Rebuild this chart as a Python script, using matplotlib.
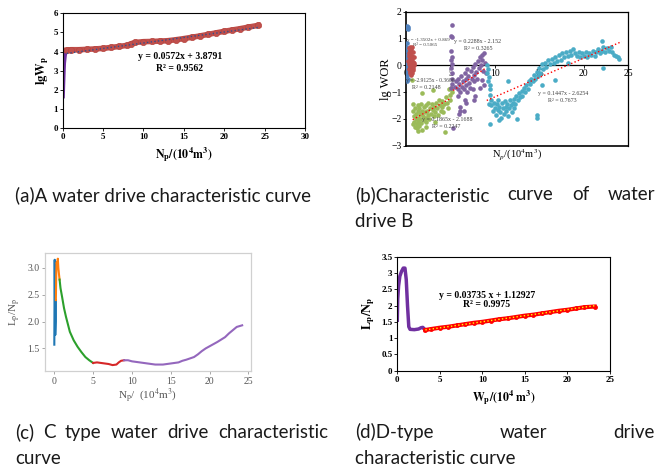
import matplotlib
matplotlib.use("Agg")
import matplotlib.pyplot as plt
import numpy as np

W, H = 670, 469
plt.rcParams["font.family"] = "Liberation Serif"
plt.rcParams["mathtext.fontset"] = "stix"

# ---- (a) lgWp vs Np ----
a_purple_x = [0.05, 0.1, 0.15, 0.2, 0.3, 0.4]
a_purple_y = [1.65, 2.3, 2.9, 3.4, 3.8, 4.0]
a_red_x = [0.5, 1, 2, 3, 4, 5, 6, 7, 8, 8.5, 9, 10, 11, 12, 13, 14, 15, 16,
           17, 18, 19, 20, 21, 22, 23, 24.2]
a_red_y = [4.08, 4.1, 4.1, 4.12, 4.14, 4.17, 4.22, 4.27, 4.33, 4.42, 4.48,
           4.52, 4.53, 4.55, 4.57, 4.62, 4.68, 4.75, 4.82, 4.9, 4.98, 5.06,
           5.13, 5.2, 5.28, 5.37]
a_fit = (0.0572, 3.8791)
a_eq = ["y = 0.0572x + 3.8791", "R² = 0.9562"]

# ---- (b) lgWOR vs Np ----
b_blue_x = [0.05, 0.10, 0.15, 0.20, 0.25, 0.05, 0.08, 0.12, 0.05, 0.10, 0.15, 0.05,
            0.10, 0.20, 0.08, 0.12, 0.05, 0.18, 0.10, 0.25, 0.15, 0.05, 0.30, 0.10]
b_blue_y = [1.40, 1.45, 1.38, 1.42, 1.35, 0.55, 0.40, 0.30, 0.20, 0.10, 0.05, -0.05,
            -0.15, -0.10, -0.25, -0.35, -0.45, -0.50, -0.60, -0.20, 0.15, 0.70, -0.05, 0.85]
b_red_x = [0.3, 0.5, 0.7, 0.4, 0.6, 0.8, 0.3, 0.5, 0.7, 0.9, 0.4, 0.6, 0.2, 0.5, 0.8, 0.3,
           0.6, 0.9, 0.4, 0.7, 0.5, 0.3, 0.6, 0.8, 0.4, 0.7, 0.5, 0.6, 0.9, 0.3, 0.5, 0.7,
           0.4, 0.8, 0.6, 0.5]
b_red_y = [0.65, 0.70, 0.68, 0.55, 0.60, 0.50, 0.45, 0.40, 0.35, 0.30, 0.25, 0.20, 0.15,
           0.10, 0.12, 0.05, 0.00, 0.02, -0.05, -0.08, -0.12, -0.15, -0.20, -0.18, -0.25,
           -0.28, -0.30, 0.48, 0.08, 0.35, 0.58, 0.22, -0.02, -0.10, -0.35, 0.28]
b_green_x = [0.7, 0.8, 0.8, 0.9, 0.9, 1.0, 0.8, 1.0, 1.1, 1.1, 1.2, 1.2, 1.3, 1.3, 1.4, 1.4,
             1.5, 1.5, 1.6, 1.6, 1.7, 1.7, 1.8, 1.8, 1.85, 1.9, 2.0, 2.0, 2.1, 2.2, 2.3, 2.3,
             2.4, 2.5, 2.5, 2.6, 2.7, 2.8, 2.9, 3.0, 3.0, 3.1, 3.2, 3.3, 3.4, 3.5, 3.6, 3.75,
             3.8, 3.9, 4.0, 4.1, 4.2, 4.3, 4.4, 4.5, 4.6, 4.7, 4.8, 4.9, 5.0, 5.1, 5.2, 2.2,
             1.3, 3.3]
b_green_y = [-0.55, -1.45, -1.7, -1.9, -2.1, -2.3, -2.2, -1.6, -1.8, -2.0, -2.2, -2.35,
             -1.5, -1.7, -1.95, -2.1, -2.25, -1.6, -1.8, -2.0, -2.15, -1.45, -1.05, -1.7,
             -2.4, -1.9, -2.05, -1.55, -1.75, -1.95, -1.5, -2.1, -1.7, -1.85, -1.4, -2.0,
             -1.6, -1.8, -1.45, -0.92, -1.65, -1.9, -1.55, -1.75, -1.4, -1.6, -1.85, -1.3,
             -1.5, -1.7, -1.35, -1.55, -1.75, -1.45, -2.48, -1.2, -1.4, -1.6, -0.9, -1.1,
             -1.3, -0.85, -1.0, -2.3, -2.45, -2.1]
b_purple_x = [5.15, 5.1, 5.15, 5.1, 5.15, 5.1, 5.15, 5.1, 5.2, 5.15, 5.2, 5.1,
              5.5, 5.6, 5.8, 5.9, 6.0, 6.1, 6.2, 6.3, 6.4, 6.5, 6.6, 6.7, 6.8, 6.9, 7.0,
              7.1, 7.2, 7.3, 7.4, 7.5, 7.6, 7.7, 7.8, 7.9, 8.0, 8.1, 8.2, 8.3, 8.4, 8.5,
              8.6, 8.7, 8.8, 8.9, 9.0, 8.6, 8.8, 8.3, 7.5, 6.9,
              6.1, 6.1, 6.5, 6.8, 6.0, 5.3, 7.8, 7.6, 6.6, 5.8]
b_purple_y = [1.5, 1.1, 1.05, 0.55, 0.3, 0.2, 0.05, -0.1, -0.3, -0.5, -0.7, -0.85,
              -0.8, -0.6, -0.9, -0.5, -0.7, -1.0, -0.4, -0.8, -0.6, -0.9, -0.3, -0.5,
              -0.75, -0.15, -0.4, -0.65, -0.85, -0.2, -0.5, -0.05, -0.35, -0.6, 0.05,
              -0.25, -0.5, 0.15, -0.1, 0.3, 0.0, 0.4, 0.2, -0.2, 0.45, 0.1, -0.3, -0.55,
              -0.75, -0.85, -0.9, -1.0,
              -1.55, -1.7, -1.7, -1.4, -1.8, -2.35, -1.15, -1.3, -1.3, -1.15]
b_cyan_x = [9.1, 9.2, 9.1, 9.3, 9.2, 9.4, 9.5, 9.4, 9.6, 9.3,
            9.6, 9.8, 9.9, 10.0, 10.1, 10.2, 10.3, 10.4, 10.5, 10.6, 10.7, 10.8, 10.9,
            11.0, 11.1, 11.2, 11.3, 11.4, 11.5, 11.6, 11.7, 11.8, 11.9, 12.0, 12.1, 12.2,
            12.3, 12.4, 12.5, 12.6, 12.7, 12.8, 9.5, 11.5, 10.5,
            13.0, 13.1, 13.3, 13.4, 13.5, 13.7, 13.8, 14.0, 14.1, 14.3, 14.4, 14.5, 14.7,
            14.8, 15.0, 15.1, 15.3, 15.4, 15.6, 15.8, 16.0, 16.2, 16.4, 16.6, 16.8, 17.0,
            14.7, 14.7, 16.8, 15.3,
            17.2, 17.4, 17.6, 17.8, 18.0, 18.2, 18.4, 18.6, 18.8, 19.0, 19.2, 19.4, 19.6,
            19.8, 20.0, 20.2, 20.4, 20.6, 20.8, 21.0, 21.2, 21.4, 21.6, 21.8, 22.0, 22.0,
            22.2, 22.4, 22.6, 22.8, 23.0, 23.2, 23.4, 23.6, 23.8, 24.0, 22.2, 18.2]
b_cyan_y = [0.0, -0.15, -0.3, -0.45, -0.6, -0.75, -0.9, -1.1, -1.3, -1.45,
            -1.5, -1.7, -1.4, -1.6, -1.85, -1.45, -1.65, -1.3, -1.55, -1.75, -1.95, -1.4,
            -1.6, -1.8, -1.35, -1.55, -1.7, -1.45, -1.9, -1.6, -1.3, -1.5, -1.75, -1.4,
            -1.6, -1.25, -1.45, -1.15, -2.0, -1.3, -1.05, -1.2, -2.2, -0.6, -2.05,
            -0.95, -1.15, -0.85, -1.0, -0.75, -0.9, -0.6, -0.7, -0.5, -0.6, -0.35, -0.5,
            -0.25, -0.4, -0.1, -0.3, 0.05, -0.15, 0.1, -0.05, 0.2, 0.05, 0.25, 0.1, 0.3,
            0.15, -1.85, -1.95, -0.55, -0.75,
            0.4, 0.2, 0.45, 0.3, 0.5, 0.35, 0.55, 0.4, 0.6, 0.45, 0.35, 0.5, 0.3, 0.45,
            0.35, 0.5, 0.3, 0.45, 0.4, 0.55, 0.35, 0.5, 0.6, 0.45, 0.9, 0.55, 0.7, 0.5,
            0.65, 0.55, 0.7, 0.5, 0.4, 0.35, 0.3, 0.25, -0.1, 0.1]
b_fits = [(0.1865, -2.1688, 0.75, 5.1), (0.2288, -2.152, 5.3, 8.9),
          (0.1447, -2.6254, 9.08, 24.26)]
b_eqs = [("y = -1.3502x + 0.869", 0.1, 0.94, 3.6), ("R² = 0.5065", 0.8, 0.76, 3.6),
         ("y = 0.2288x - 2.152", 5.4, 0.88, 4.3), ("R² = 0.3265", 6.5, 0.63, 4.3),
         ("y = -2.9125x - 0.3606", 0.05, -0.58, 4.0), ("R² = 0.2148", 0.7, -0.82, 4.3),
         ("y = 0.1865x - 2.1688", 1.77, -2.04, 4.3), ("R² = 0.2247", 2.9, -2.29, 4.3),
         ("y = 0.1447x - 2.6254", 14.9, -1.07, 4.3), ("R² = 0.7673", 16.0, -1.32, 4.3)]

# ---- (c) Lp/Np vs Np ----
c_blue_x = [0.0, 0.02, 0.05, 0.08, 0.12, 0.18, 0.2]
c_blue_y = [1.57, 2.2, 3.15, 2.6, 1.75, 2.0, 2.4]
c_orange_x = [0.2, 0.25, 0.3, 0.38, 0.45, 0.52, 0.6, 0.68]
c_orange_y = [2.4, 2.9, 3.1, 3.05, 3.17, 3.0, 2.88, 2.78]
c_green_x = [0.68, 0.8, 1.0, 1.25, 1.5, 2.0, 2.5, 3.0, 3.5, 4.0, 4.5, 5.0]
c_green_y = [2.78, 2.62, 2.46, 2.25, 2.09, 1.81, 1.65, 1.53, 1.43, 1.34, 1.28, 1.23]
c_red_x = [5.0, 5.5, 6.0, 6.5, 7.0, 7.5, 8.0, 8.3, 8.6, 9.0]
c_red_y = [1.23, 1.24, 1.23, 1.22, 1.21, 1.19, 1.2, 1.24, 1.27, 1.28]
c_purple_x = [9.0, 9.5, 10, 11, 12, 13, 14, 15, 16, 16.5, 17, 18, 18.5, 19, 19.5,
              20, 21, 22, 22.5, 23, 23.5, 24.2]
c_purple_y = [1.28, 1.28, 1.26, 1.24, 1.22, 1.2, 1.2, 1.22, 1.24, 1.27, 1.29, 1.34,
              1.39, 1.45, 1.5, 1.54, 1.62, 1.71, 1.78, 1.84, 1.9, 1.93]

# ---- (d) Lp/Np vs Wp ----
d_purple_x = [0, 0.05, 0.15, 0.3, 0.5, 0.7, 0.9, 1.05, 1.2, 1.35, 1.5, 2.0, 2.5,
              2.8, 3.0, 3.3]
d_purple_y = [1.55, 2.2, 2.6, 2.9, 3.05, 3.15, 3.15, 2.8, 2.0, 1.35, 1.27, 1.26,
              1.28, 1.32, 1.33, 1.25]
d_red_x = [3.3, 4, 5, 6, 7, 8, 9, 10, 11, 12, 13, 14, 15, 16, 17, 18, 19, 20, 21,
           22, 23.2]
d_red_y = [1.25, 1.28, 1.32, 1.35, 1.39, 1.43, 1.47, 1.5, 1.54, 1.58, 1.61, 1.65,
           1.69, 1.72, 1.76, 1.8, 1.84, 1.87, 1.91, 1.95, 1.97]
d_fit = (0.03735, 1.12927)
d_eq = ["y = 0.03735 x + 1.12927", "R² = 0.9975"]

captions_a = "(a)A water drive characteristic curve"
captions_b = ["(b)Characteristic", "curve", "of", "water"]
captions_b2 = "drive B"
captions_c = ["(c)", "C", "type", "water", "drive", "characteristic"]
captions_c2 = "curve"
captions_d = ["(d)D-type", "water", "drive"]
captions_d2 = "characteristic curve"


def px_axes(fig, left, top, right, bottom):
    return fig.add_axes([left / W, 1 - bottom / H, (right - left) / W,
                         (bottom - top) / H])


def excel_style(ax):
    for s in ax.spines.values():
        s.set_linewidth(0.8)
        s.set_color("black")
    ax.tick_params(labelsize=6.5, length=2, width=0.6, direction="out", pad=1.5)
    for lab in ax.get_xticklabels() + ax.get_yticklabels():
        lab.set_fontweight("bold")


fig = plt.figure(figsize=(W / 100, H / 100), dpi=100)

# (a)
ax = px_axes(fig, 62.7, 13.3, 305, 128.3)
ax.plot(a_purple_x, a_purple_y, color="#7030a0", lw=2.5)
ax.plot(a_red_x, a_red_y, color="#c0504d", lw=4, marker="o", ms=4.5,
        mec="#b8463f", mew=0.5)
xf = np.array([a_red_x[0], a_red_x[-1]])
ax.plot(xf, a_fit[0] * xf + a_fit[1], color="#2f4f8f", ls=":", lw=1)
ax.set_xlim(0, 30)
ax.set_ylim(0, 6)
ax.set_xticks(range(0, 31, 5))
ax.set_yticks(range(0, 7))
excel_style(ax)
ax.text(14.5, 3.73, a_eq[0], ha="center", va="center", fontsize=7, fontweight="bold")
ax.text(14.5, 3.13, a_eq[1], ha="center", va="center", fontsize=7, fontweight="bold")
ax.set_ylabel(r"$\mathbf{lgW_p}$", fontsize=9, labelpad=2)
ax.set_xlabel(r"$\mathbf{N_p/(10^4m^3)}$", fontsize=8.5, labelpad=3)

# (b)
ax = px_axes(fig, 406, 11.7, 628.3, 145.7)
ax.scatter(b_blue_x, b_blue_y, s=11, color="#4f81bd", lw=0, zorder=3)
ax.scatter(b_red_x, b_red_y, s=11, color="#c0504d", lw=0, zorder=3)
ax.scatter(b_green_x, b_green_y, s=11, color="#9bbb59", lw=0, zorder=3)
ax.scatter(b_purple_x, b_purple_y, s=11, color="#8064a2", lw=0, zorder=3)
ax.scatter(b_cyan_x, b_cyan_y, s=11, color="#4bacc6", lw=0, zorder=3)
for k, b, x0, x1 in b_fits:
    xf = np.array([x0, x1])
    ax.plot(xf, k * xf + b, color="red", ls=":", lw=1, zorder=4)
for txt, x, y, fs in b_eqs:
    ax.text(x, y, txt, fontsize=fs, color="#404040", va="center", zorder=5)
ax.set_xlim(0, 25)
ax.set_ylim(-3, 2)
ax.spines["bottom"].set_position(("data", 0))
ax.axhline(-3, color="black", lw=1.2, clip_on=False)
for s in ax.spines.values():
    s.set_linewidth(0.9)
ax.spines["left"].set_linewidth(1.2)
ax.set_xticks(range(0, 26, 5))
ax.set_yticks(range(-3, 3))
ax.tick_params(labelsize=7, length=2, width=0.6, direction="out", pad=1)
ax.set_ylabel("lg WOR", fontsize=9)
ax.yaxis.set_label_coords(-0.062, 0.5)
ax.set_xlabel(r"N$_p$/(10$^4$m$^3$)", fontsize=7.5)
ax.xaxis.set_label_coords(0.5, -0.01)

# (c)
ax = px_axes(fig, 45, 253.3, 250.7, 371)
ax.plot(c_blue_x, c_blue_y, color="#1f77b4", lw=1.5)
ax.plot(c_orange_x, c_orange_y, color="#ff7f0e", lw=1.5)
ax.plot(c_green_x, c_green_y, color="#2ca02c", lw=1.5)
ax.plot(c_red_x, c_red_y, color="#d62728", lw=1.5)
ax.plot(c_purple_x, c_purple_y, color="#9467bd", lw=1.5)
ax.set_xlim(-1.2, 25.3)
ax.set_ylim(1.08, 3.27)
ax.set_xticks(range(0, 26, 5))
ax.set_yticks([1.5, 2.0, 2.5, 3.0])
for s in ax.spines.values():
    s.set_color("#d0d0d0")
    s.set_linewidth(0.9)
ax.tick_params(labelsize=7, length=2.5, width=0.6, color="#999999",
               labelcolor="#555555", pad=1.5)
ax.set_ylabel(r"L$_\mathrm{p}$/N$_\mathrm{p}$", fontsize=8, color="#555555", labelpad=3)
ax.set_xlabel(r"N$_\mathrm{p}$/  (10$^4$m$^3$)", fontsize=8, color="#555555", labelpad=1)

# (d)
ax = px_axes(fig, 397.3, 256.7, 610, 370.7)
ax.plot(d_purple_x, d_purple_y, color="#7030a0", lw=2.5)
ax.plot(d_red_x, d_red_y, color="red", lw=3, marker="o", ms=3.5, mew=0)
xf = np.array([d_red_x[0], d_red_x[-1]])
ax.plot(xf, d_fit[0] * xf + d_fit[1], color="#ffff00", ls=":", lw=1)
ax.set_xlim(0, 25)
ax.set_ylim(0, 3.5)
ax.set_xticks(range(0, 26, 5))
ax.set_yticks(np.arange(0, 3.6, 0.5))
ax.set_yticklabels(["0", "0.5", "1", "1.5", "2", "2.5", "3", "3.5"])
excel_style(ax)
ax.text(10.5, 2.32, d_eq[0], ha="center", va="center", fontsize=7, fontweight="bold")
ax.text(10.5, 2.02, d_eq[1], ha="center", va="center", fontsize=7, fontweight="bold")
ax.set_ylabel(r"$\mathbf{L_p/N_p}$", fontsize=9, labelpad=3)
ax.set_xlabel(r"$\mathbf{W_p/(10^4\ m^3)}$", fontsize=8.5, labelpad=3)

# captions
cap = dict(fontsize=13.5, family="Lato", va="center", color="#1a1a1a")
renderer = fig.canvas.get_renderer()


def justify(words, x0, x1, y):
    texts = [fig.text(0, 1 - y / H, w, **cap) for w in words]
    widths = [t.get_window_extent(renderer).width for t in texts]
    gap = (x1 - x0 - sum(widths)) / (len(words) - 1)
    x = x0
    for t, w in zip(texts, widths):
        t.set_x(x / W)
        x += w + gap


fig.text(15 / W, 1 - 195 / H, captions_a, **cap)
justify(captions_b, 355, 655, 195)
fig.text(355 / W, 1 - 221 / H, captions_b2, **cap)
justify(captions_c, 15, 328, 432)
fig.text(15 / W, 1 - 458 / H, captions_c2, **cap)
justify(captions_d, 355, 655, 432)
fig.text(355 / W, 1 - 458 / H, captions_d2, **cap)

fig.savefig("out.png", dpi=100)
